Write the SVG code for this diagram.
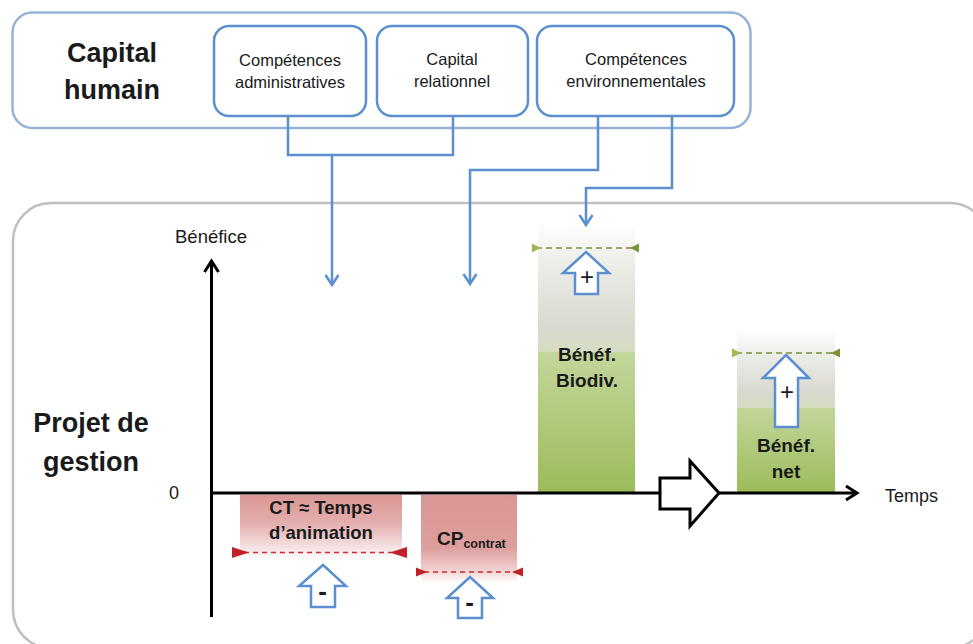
<svg xmlns="http://www.w3.org/2000/svg" width="973" height="644" viewBox="0 0 973 644">
<style>
.t{font-family:"Liberation Sans",Arial,sans-serif;fill:#1a1a1a}
.b{font-weight:bold}
.sm{font-size:16.5px}
.big{font-size:27px;font-weight:bold}
.inner{fill:#fff;stroke:#5b8fd0;stroke-width:2.5}
.conn{fill:none;stroke:#5b8fd0;stroke-width:2.5}
.blk{fill:#fff;stroke:#5b8fd0;stroke-width:2.5;stroke-linejoin:miter}
.gd{stroke:#77933c;stroke-width:1.5;stroke-dasharray:6 4}
.rd{stroke:#d02a34;stroke-width:1.5;stroke-dasharray:5 4}
.axis{fill:none;stroke:#000;stroke-width:3}
</style>
<defs>
<marker id="chev" markerUnits="userSpaceOnUse" viewBox="-14 -10 20 20" markerWidth="20" markerHeight="20" refX="0" refY="0" orient="auto">
<path d="M-10,-6.5 L0,0 L-10,6.5" fill="none" stroke="#5b8fd0" stroke-width="2.5"/>
</marker>
<marker id="achev" markerUnits="userSpaceOnUse" viewBox="-14 -10 20 20" markerWidth="20" markerHeight="20" refX="0" refY="0" orient="auto">
<path d="M-11,-7 L0,0 L-11,7" fill="none" stroke="#000" stroke-width="3"/>
</marker>
<linearGradient id="gGreen" x1="0" y1="0" x2="0" y2="1">
<stop offset="0" stop-color="#ffffff"/>
<stop offset="0.12" stop-color="#f0f0ec"/>
<stop offset="0.38" stop-color="#d9d9d0"/>
<stop offset="0.475" stop-color="#d5ddc2"/>
<stop offset="0.48" stop-color="#c3d69b"/>
<stop offset="1" stop-color="#9bbb59"/>
</linearGradient>
<linearGradient id="gRed1" x1="0" y1="0" x2="0" y2="1">
<stop offset="0" stop-color="#d99694"/>
<stop offset="0.45" stop-color="#e4b0af"/>
<stop offset="0.75" stop-color="#f2dbda"/>
<stop offset="1" stop-color="#ffffff"/>
</linearGradient>
<linearGradient id="gRed2" x1="0" y1="0" x2="0" y2="1">
<stop offset="0" stop-color="#d99694"/>
<stop offset="0.6" stop-color="#dd9f9d"/>
<stop offset="0.85" stop-color="#f0d0cf"/>
<stop offset="1" stop-color="#ffffff"/>
</linearGradient>
</defs>

<g id="capital-humain">
<rect x="12.5" y="12.5" width="738" height="115.5" rx="20" fill="#fff" stroke="#95b3d7" stroke-width="2.5"/>
<text class="t big" x="112" y="62" text-anchor="middle">Capital</text>
<text class="t big" x="112" y="99" text-anchor="middle">humain</text>
</g>
<g id="competences-administratives">
<rect class="inner" x="214" y="26" width="152" height="90" rx="15"/>
<text class="t sm" x="290" y="66" text-anchor="middle">Compétences</text>
<text class="t sm" x="290" y="88" text-anchor="middle">administratives</text>
</g>
<g id="capital-relationnel">
<rect class="inner" x="377" y="26" width="151" height="90" rx="15"/>
<text class="t sm" x="452" y="65" text-anchor="middle">Capital</text>
<text class="t sm" x="452" y="87" text-anchor="middle">relationnel</text>
</g>
<g id="competences-environnementales">
<rect class="inner" x="537" y="26" width="197" height="90" rx="15"/>
<text class="t sm" x="636" y="65" text-anchor="middle">Compétences</text>
<text class="t sm" x="636" y="87" text-anchor="middle">environnementales</text>
</g>

<g id="projet-de-gestion">
<rect x="13" y="203" width="975" height="445" rx="38" fill="#fff" stroke="#bfbfbf" stroke-width="2.5"/>
<text class="t big" x="91" y="432" text-anchor="middle">Projet de</text>
<text class="t big" x="91" y="471" text-anchor="middle">gestion</text>
</g>

<g id="benef-biodiv">
<rect x="538" y="223" width="97" height="270" fill="url(#gGreen)"/>
<line class="gd" x1="536" y1="248" x2="636" y2="248"/>
<polygon points="532,243.5 541,248 532,252.5" fill="#9bbb59"/>
<polygon points="639,243.5 630,248 639,252.5" fill="#77933c"/>
<polygon class="blk" points="586,252 609,273 598,273 598,294 575,294 575,273 563,273"/>
<text class="t" x="587" y="284.5" font-size="24" text-anchor="middle">+</text>
<text class="t b" x="587" y="361" font-size="19" text-anchor="middle">Bénéf.</text>
<text class="t b" x="587" y="387" font-size="19" text-anchor="middle">Biodiv.</text>
</g>

<g id="benef-net">
<rect x="737" y="330" width="98" height="163" fill="url(#gGreen)"/>
<line class="gd" x1="736" y1="353" x2="836" y2="353"/>
<polygon points="732,348.5 741,353 732,357.5" fill="#9bbb59"/>
<polygon points="840,348.5 831,353 840,357.5" fill="#77933c"/>
<polygon class="blk" points="786,355 809,378 798,378 798,427 775,427 775,378 763,378"/>
<text class="t" x="787" y="399.5" font-size="24" text-anchor="middle">+</text>
<text class="t b" x="786" y="452" font-size="19" text-anchor="middle">Bénéf.</text>
<text class="t b" x="786" y="478" font-size="19" text-anchor="middle">net</text>
</g>

<g id="ct-temps-animation">
<rect x="240" y="495" width="162" height="65" fill="url(#gRed1)"/>
<line class="rd" x1="244" y1="552.5" x2="396" y2="552.5"/>
<polygon points="232,547 249,552.5 232,558" fill="#c0202a"/>
<polygon points="407,547 390,552.5 407,558" fill="#c0202a"/>
<text class="t b" x="321" y="514" font-size="18.5" text-anchor="middle">CT ≈ Temps</text>
<text class="t b" x="321" y="539" font-size="18.5" text-anchor="middle">d’animation</text>
<polygon class="blk" points="323,565 346,586 335,586 335,607 311,607 311,586 299,586"/>
<text class="t b" x="322.5" y="599.5" font-size="26" text-anchor="middle">-</text>
</g>

<g id="cp-contrat">
<rect x="421" y="495" width="96" height="88" fill="url(#gRed2)"/>
<line class="rd" x1="424" y1="572" x2="515" y2="572"/>
<polygon points="416,567.5 427,572 416,576.5" fill="#c0202a"/>
<polygon points="523,567.5 512,572 523,576.5" fill="#c0202a"/>
<text class="t b" x="437" y="545" font-size="19">CP<tspan font-size="12.5" dy="3">contrat</tspan></text>
<polygon class="blk" points="470,577 493,598 482,598 482,618 458,618 458,598 447,598"/>
<text class="t b" x="469.5" y="610.5" font-size="26" text-anchor="middle">-</text>
</g>

<g id="axes">
<line class="axis" x1="211.5" y1="617" x2="211.5" y2="261" marker-end="url(#achev)"/>
<line class="axis" x1="210" y1="493" x2="857" y2="493" marker-end="url(#achev)"/>
<text class="t" x="211" y="243" font-size="18.5" text-anchor="middle">Bénéfice</text>
<text class="t" x="174" y="499" font-size="18" text-anchor="middle">0</text>
<text class="t" x="885" y="502" font-size="18">Temps</text>
</g>

<g id="transition-arrow">
<polygon points="660,478 690,478 690,461 719,493 690,526 690,509 660,509" fill="#fff" stroke="#000" stroke-width="3"/>
</g>

<g id="connectors">
<polyline class="conn" points="288,116 288,155 453,155 453,116"/>
<polyline class="conn" points="332,155 332,285" marker-end="url(#chev)"/>
<polyline class="conn" points="598,116 598,170 470,170 470,284" marker-end="url(#chev)"/>
<polyline class="conn" points="672,116 672,188 586,188 586,225" marker-end="url(#chev)"/>
</g>
</svg>
